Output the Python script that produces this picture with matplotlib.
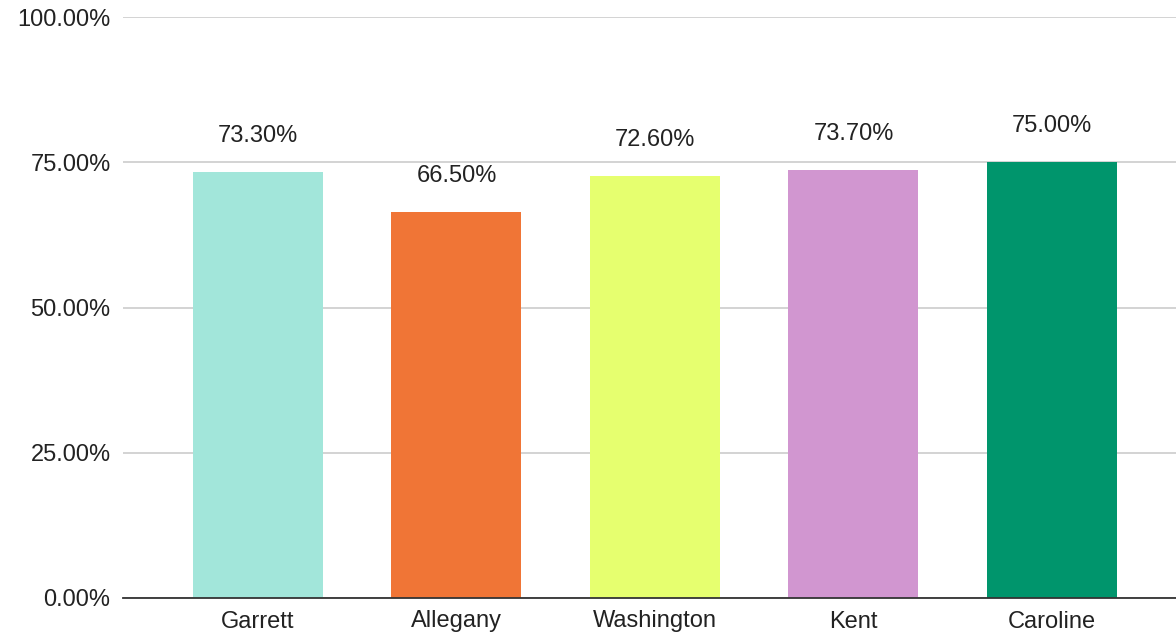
import matplotlib.pyplot as plt
from matplotlib.ticker import FuncFormatter

counties = ['Garrett', 'Allegany', 'Washington', 'Kent', 'Caroline']
rates = [73.3, 66.5, 72.6, 73.7, 75.0]
colors = ['#a2e6da', '#f07536', '#e6ff6f', '#d196d0', '#00956c']

plt.rcParams['font.family'] = ['Liberation Sans', 'DejaVu Sans']

fig = plt.figure(figsize=(11.76, 6.37), dpi=100)
ax = fig.add_axes([123/1176, 39/637, 1 - 123/1176, 581/637])

x = list(range(len(counties)))
bars = ax.bar(x, rates, width=0.655, color=colors, zorder=3)

for b, v in zip(bars, rates):
    ax.annotate('%.2f%%' % v, (b.get_x() + b.get_width()/2, v),
                xytext=(0, 18), textcoords='offset points',
                ha='center', va='bottom', fontsize=17, color='#222222',
                bbox=dict(facecolor='white', edgecolor='none', pad=1),
                zorder=4)

ax.set_ylim(0, 100)
ax.set_xlim(-0.68, 4.625)
ax.set_yticks([0, 25, 50, 75, 100])
ax.yaxis.set_major_formatter(FuncFormatter(lambda v, p: '%.2f%%' % v))
ax.set_xticks(x)
ax.set_xticklabels(counties)
ax.tick_params(axis='both', length=0, labelsize=17, colors='#222222')
ax.tick_params(axis='y', pad=9)
ax.tick_params(axis='x', pad=9)
ax.grid(axis='y', color='#cccccc', linewidth=1.2, zorder=0)
for s in ['top', 'right', 'left']:
    ax.spines[s].set_visible(False)
ax.spines['bottom'].set_color('#333333')
ax.spines['bottom'].set_linewidth(1.3)
ax.spines['bottom'].set_zorder(5)

fig.savefig('out.png', dpi=100)
